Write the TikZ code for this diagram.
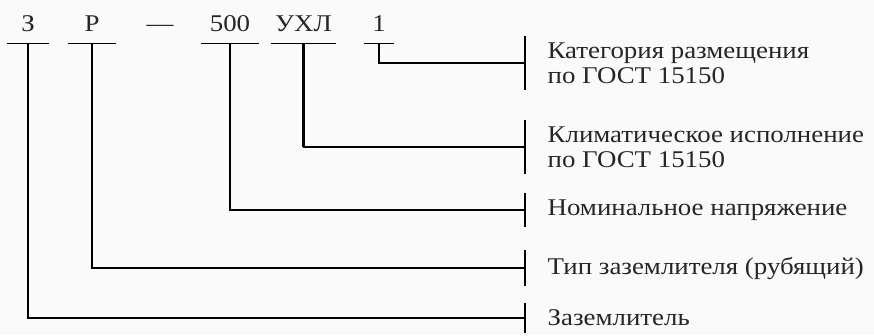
\documentclass[tikz,border=0pt]{standalone}
\usepackage{fontspec}
\setmainfont[FakeStretch=1.12]{Liberation Serif}
\usepackage{tikz}
\newcommand{\gostRef}{по ГОСТ 15150}

\begin{document}
\begin{tikzpicture}[x=1pt, y=-1pt, line width=1.3pt,
    every node/.style={font=\fontsize{24}{25}\selectfont, text=black!85},
    code/.style={anchor=base, inner sep=0pt, text depth=12pt, minimum width=#1},
    desc/.style={anchor=west, align=left, inner xsep=22pt, inner ysep=6pt},
    heavy/.style={line width=3.6pt}]
        \fill [color=black!2] (0,0) rectangle (874,335);
        \useasboundingbox (0,0) rectangle (874,335);

        \node [code=40] (cZ) at (28, 31) {З};
        \node [code=46] (cR) at (92, 31) {Р};
        \node [code=0] (cDash) at (160, 31) {—};
        \node [code=56] (cU) at (230, 31) {500};
        \node [code=63] (cK) at (303.5, 31) {УХЛ};
        \node [code=28] (cP) at (379, 31) {1};

        \node [desc] (dP) at (525, 63) {Категория размещения\\\gostRef};
        \node [desc] (dK) at (525, 147) {Климатическое исполнение\\\gostRef};
        \node [desc] (dU) at (525, 210) {Номинальное напряжение};
        \node [desc] (dR) at (525, 268) {Тип заземлителя (рубящий)};
        \node [desc] (dZ) at (525, 318) {Заземлитель};

        \foreach \c in {cZ, cR, cU, cK, cP}
            \draw (\c.south west) -- (\c.south east);
        \foreach \d in {dP, dK, dU, dR, dZ}
            \draw (\d.north west) -- (\d.south west);

        \draw (cP.south) |- (dP.west);
        \draw (cK.south) |- (dK.west);
        \draw [heavy] (cK.south) -- (cK.south |- dK.west);
        \draw (cU.south) |- (dU.west);
        \draw (cR.south) |- (dR.west);
        \draw (cZ.south) |- (dZ.west);

    \end{tikzpicture}
\end{document}
